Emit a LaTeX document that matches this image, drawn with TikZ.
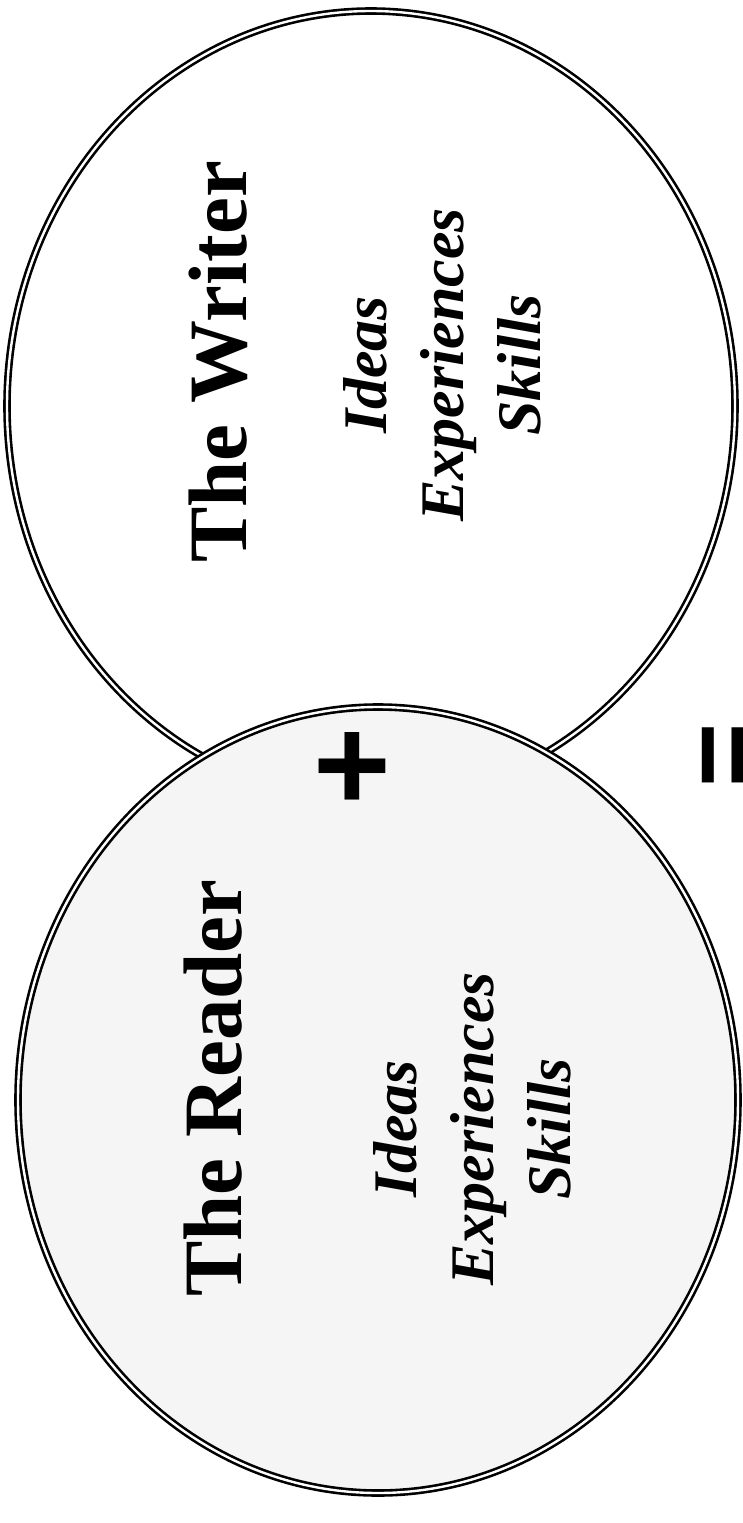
\documentclass[tikz,border=0pt]{standalone}
\usepackage{fontspec}
\setmainfont{Liberation Serif}
\newfontfamily\symfont{Liberation Sans}
\usetikzlibrary{shapes.geometric}
\begin{document}
\begin{tikzpicture}[x=1pt,y=-1pt,
  ring/.style={ellipse, inner sep=0pt, draw=black, line width=2.6pt, double=white, double distance=2.4pt},
  titletext/.style={rotate=90, anchor=base, inner sep=0pt, font=\fontsize{83}{90}\selectfont\bfseries},
  itemtext/.style={rotate=90, anchor=base, inner sep=0pt, font=\fontsize{62}{70}\selectfont\bfseries\itshape},
  opsign/.style={anchor=base, inner sep=0pt},
]
\useasboundingbox (0,0) rectangle (742,1523);
\fill[white] (0,0) rectangle (742,1523);
\node[ring, fill=white, minimum width=728pt, minimum height=790pt] (writer) at (371,406) {};
\node[ring, fill=black!4, minimum width=720pt, minimum height=786pt] (reader) at (378,1100) {};
% Writer texts
\node[titletext] (wtitle) at (246,362) {The Writer};
\node[itemtext] (wideas) at (386,365) {Ideas};
\node[itemtext] (wexp) at (463,365) {Experiences};
\node[itemtext] (wskills) at (540,365) {Skills};
% Reader texts
\node[titletext] (rtitle) at (241,1088) {The Reader};
\node[itemtext] (rideas) at (416,1129) {Ideas};
\node[itemtext] (rexp) at (493,1129) {Experiences};
\node[itemtext] (rskills) at (570,1129) {Skills};
% operators
\node[opsign, font=\fontsize{133}{140}\symfont\bfseries] (plus) at (352,810) {+};
\node[opsign, rotate=90, font=\fontsize{110}{120}\symfont\bfseries] (equals) at (759,755) {=};
\end{tikzpicture}
\end{document}
